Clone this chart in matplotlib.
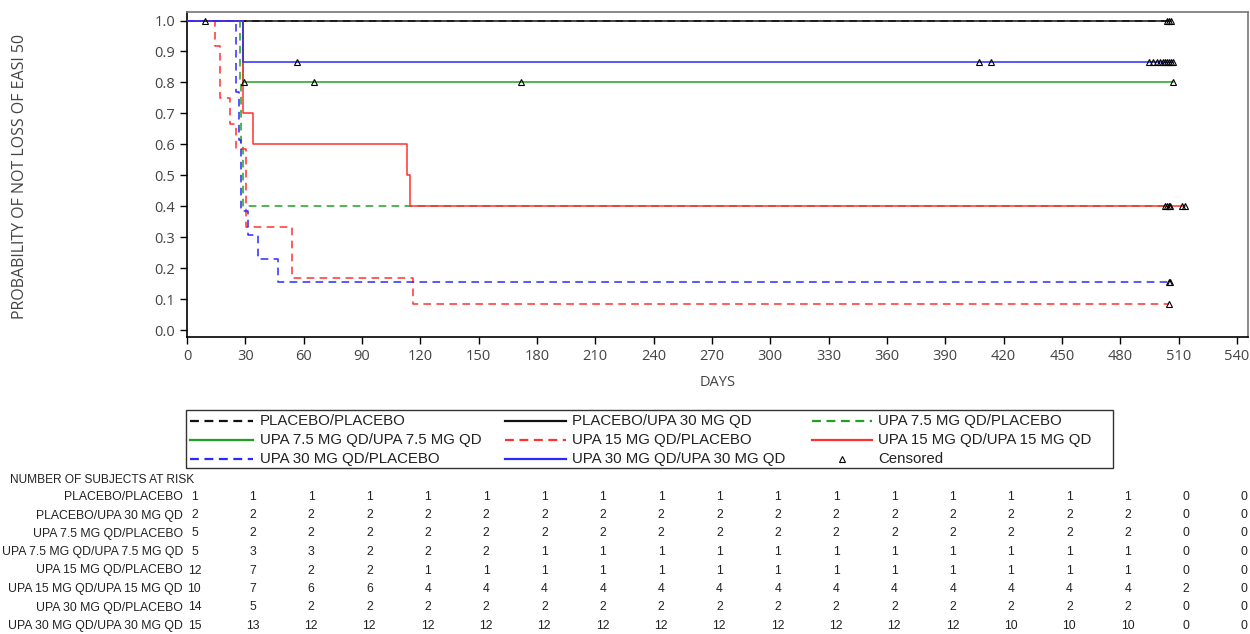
import numpy as np
import matplotlib
matplotlib.use("Agg")
import matplotlib.pyplot as plt
from matplotlib.lines import Line2D
import matplotlib.transforms as mtransforms

# ---------------- data ----------------
groups = ["PLACEBO/PLACEBO", "PLACEBO/UPA 30 MG QD", "UPA 7.5 MG QD/PLACEBO",
          "UPA 7.5 MG QD/UPA 7.5 MG QD", "UPA 15 MG QD/PLACEBO",
          "UPA 15 MG QD/UPA 15 MG QD", "UPA 30 MG QD/PLACEBO",
          "UPA 30 MG QD/UPA 30 MG QD"]

# event (loss of EASI 50) days and censoring days per group
ev_pp = []
ce_pp = [505.0]
ev_pu30 = []
ce_pu30 = [504.0, 506.0]
ev_u75p = [27.3, 28.0, 29.0]
ce_u75p = [504.0, 505.5]
ev_u75u75 = [29.0]
ce_u75u75 = [29.5, 65.3, 171.8, 507.0]
ev_u15p = [14.4, 17.0, 17.0, 22.1, 25.0, 30.5, 30.5, 30.5, 53.8, 53.8, 116.0]
ce_u15p = [505.0]
ev_u15u15 = [29.0, 29.0, 29.0, 34.1, 113.0, 114.7]
ce_u15u15 = [503.0, 505.0, 511.5, 513.5]
ev_u30p = [25.2, 25.2, 25.2, 26.5, 26.5, 28.0, 28.0, 28.0, 31.5, 36.7, 47.0]
ce_u30p = [9.3, 505.0, 505.6]
ev_u30u30 = [29.0, 29.0]
ce_u30u30 = [56.8, 407.6, 413.4, 495.0, 497.0, 499.0, 500.5, 502.0, 503.0,
             504.0, 505.0, 506.0, 507.0]

events = [ev_pp, ev_pu30, ev_u75p, ev_u75u75, ev_u15p, ev_u15u15, ev_u30p, ev_u30u30]
censors = [ce_pp, ce_pu30, ce_u75p, ce_u75u75, ce_u15p, ce_u15u15, ce_u30p, ce_u30u30]

risk_days = [0, 30, 60, 90, 120, 150, 180, 210, 240, 270, 300, 330, 360, 390,
             420, 450, 480, 510, 540]
risk_pp = [1, 1, 1, 1, 1, 1, 1, 1, 1, 1, 1, 1, 1, 1, 1, 1, 1, 0, 0]
risk_pu30 = [2, 2, 2, 2, 2, 2, 2, 2, 2, 2, 2, 2, 2, 2, 2, 2, 2, 0, 0]
risk_u75p = [5, 2, 2, 2, 2, 2, 2, 2, 2, 2, 2, 2, 2, 2, 2, 2, 2, 0, 0]
risk_u75u75 = [5, 3, 3, 2, 2, 2, 1, 1, 1, 1, 1, 1, 1, 1, 1, 1, 1, 0, 0]
risk_u15p = [12, 7, 2, 2, 1, 1, 1, 1, 1, 1, 1, 1, 1, 1, 1, 1, 1, 0, 0]
risk_u15u15 = [10, 7, 6, 6, 4, 4, 4, 4, 4, 4, 4, 4, 4, 4, 4, 4, 4, 2, 0]
risk_u30p = [14, 5, 2, 2, 2, 2, 2, 2, 2, 2, 2, 2, 2, 2, 2, 2, 2, 0, 0]
risk_u30u30 = [15, 13, 12, 12, 12, 12, 12, 12, 12, 12, 12, 12, 12, 12, 10, 10, 10, 0, 0]
risk = [risk_pp, risk_pu30, risk_u75p, risk_u75u75, risk_u15p, risk_u15u15,
        risk_u30p, risk_u30u30]

x_ticks = list(range(0, 541, 30))
y_ticks = [0.0, 0.1, 0.2, 0.3, 0.4, 0.5, 0.6, 0.7, 0.8, 0.9, 1.0]

# ---------------- styles ----------------
BLUE = "#2a2aff"
RED = "#ff3030"
GREEN = "#22a022"
BLACK = "#111111"
colors = [BLACK, BLACK, GREEN, GREEN, RED, RED, BLUE, BLUE]
dashed = [True, False, True, False, True, False, True, False]
DASH = (0, (5, 3.5))

FONT = ["Open Sans", "DejaVu Sans"]
NARROW = ["Liberation Sans", "DejaVu Sans"]
GRAY = "#444444"
TXT = "#222222"


def km_curve(ev, ce):
    ev = np.asarray(ev, float)
    ce = np.asarray(ce, float)
    n = len(ev) + len(ce)
    times = np.unique(np.concatenate([ev, ce]))
    s = 1.0
    xs, ys = [0.0], [1.0]
    cx, cy = [], []
    for t in times:
        d = int(np.sum(ev == t))
        c = int(np.sum(ce == t))
        if d > 0:
            xs.append(t); ys.append(s)
            s *= (n - d) / n
            xs.append(t); ys.append(s)
        for _ in range(c):
            cx.append(t); cy.append(s)
        n -= d + c
    xs.append(times.max()); ys.append(s)
    return xs, ys, cx, cy


fig = plt.figure(figsize=(12.5, 6.34), dpi=100)
W, H = 1250.0, 634.0
ax = fig.add_axes([187 / W, 1 - 337 / H, (1248 - 187) / W, (337 - 12) / H])

for i in range(len(groups)):
    xs, ys, cx, cy = km_curve(events[i], censors[i])
    ax.plot(xs, ys, color=colors[i], lw=1.1,
            linestyle=DASH if dashed[i] else "-", zorder=2 + i * 0.1)
    if cx:
        ax.plot(cx, cy, linestyle="none", marker="^", markersize=4.2,
                markerfacecolor="none", markeredgecolor="black",
                markeredgewidth=0.8, zorder=5)

ax.set_xlim(0, 545.7)
ax.set_ylim(-0.0226, 1.0275)
ax.set_xticks(x_ticks)
ax.set_yticks(y_ticks)
ax.set_xticklabels([str(v) for v in x_ticks], fontfamily=FONT, fontsize=10.5, color=GRAY)
ax.set_yticklabels(["%.1f" % v for v in y_ticks], fontfamily=FONT, fontsize=10.5, color=GRAY)
ax.tick_params(direction="out", length=5, width=1, color="black", pad=3.5)
for sp in ["left", "bottom"]:
    ax.spines[sp].set_color("black")
    ax.spines[sp].set_linewidth(1.2)
for sp in ["top", "right"]:
    ax.spines[sp].set_color("#777777")
    ax.spines[sp].set_linewidth(1.2)

ax.set_xlabel("DAYS", fontfamily=FONT, fontsize=10.5, color=GRAY, labelpad=8)
fig.text(20 / W, 1 - 176 / H, "PROBABILITY OF NOT LOSS OF EASI 50", rotation=90,
         ha="center", va="center", fontfamily=FONT, fontsize=11.5, color=GRAY)

# ---------------- legend (manual, in pixel coordinates) ----------------
def fx(px):
    return px / W


def fy(py):
    return 1 - py / H


legend_box = plt.Rectangle((fx(186), fy(468)), fx(1113) - fx(186), fy(410) - fy(468),
                           transform=fig.transFigure, fill=False, edgecolor="#333333",
                           linewidth=1.0)
fig.add_artist(legend_box)

col_line_x = [(190, 253), (505, 566), (812, 872)]
col_text_x = [260, 572, 878]
row_y = [421, 440, 459]
# row-major order matching the reference legend
legend_items = [(0, 0, 0), (1, 0, 1), (2, 0, 2),
                (3, 1, 0), (4, 1, 1), (5, 1, 2),
                (6, 2, 0), (7, 2, 1)]
for gi, r, c in legend_items:
    x0, x1 = col_line_x[c]
    fig.add_artist(Line2D([fx(x0), fx(x1)], [fy(row_y[r]), fy(row_y[r])],
                          transform=fig.transFigure, color=colors[gi], lw=1.6,
                          linestyle=(0, (4, 2.5)) if dashed[gi] else "-"))
    fig.text(fx(col_text_x[c]), fy(row_y[r]), groups[gi], ha="left", va="center",
             fontfamily=NARROW, fontsize=10.8, color=TXT)
fig.add_artist(Line2D([fx(842)], [fy(row_y[2])], transform=fig.transFigure,
                      linestyle="none", marker="^", markersize=4.2,
                      markerfacecolor="none", markeredgecolor="black",
                      markeredgewidth=0.8))
fig.text(fx(col_text_x[2]), fy(row_y[2]), "Censored", ha="left", va="center",
         fontfamily=NARROW, fontsize=10.8, color=TXT)

# ---------------- number at risk table ----------------
fig.text(fx(10), fy(480), "NUMBER OF SUBJECTS AT RISK", ha="left", va="center",
         fontfamily=NARROW, fontsize=8.6, color=TXT)
table_y = [497, 515.5, 533.5, 552, 570.5, 589, 607.5, 626]
trans = mtransforms.blended_transform_factory(ax.transData, fig.transFigure)
for gi in range(len(groups)):
    yy = fy(table_y[gi])
    fig.text(fx(183), yy, groups[gi], ha="right", va="center",
             fontfamily=NARROW, fontsize=8.8, color=TXT)
    for d, v in zip(risk_days, risk[gi]):
        ax.text(d + 3.8, yy, str(v), transform=trans, ha="center", va="center",
                fontfamily=NARROW, fontsize=8.8, color=TXT, clip_on=False)

fig.savefig("out.png", dpi=100)
